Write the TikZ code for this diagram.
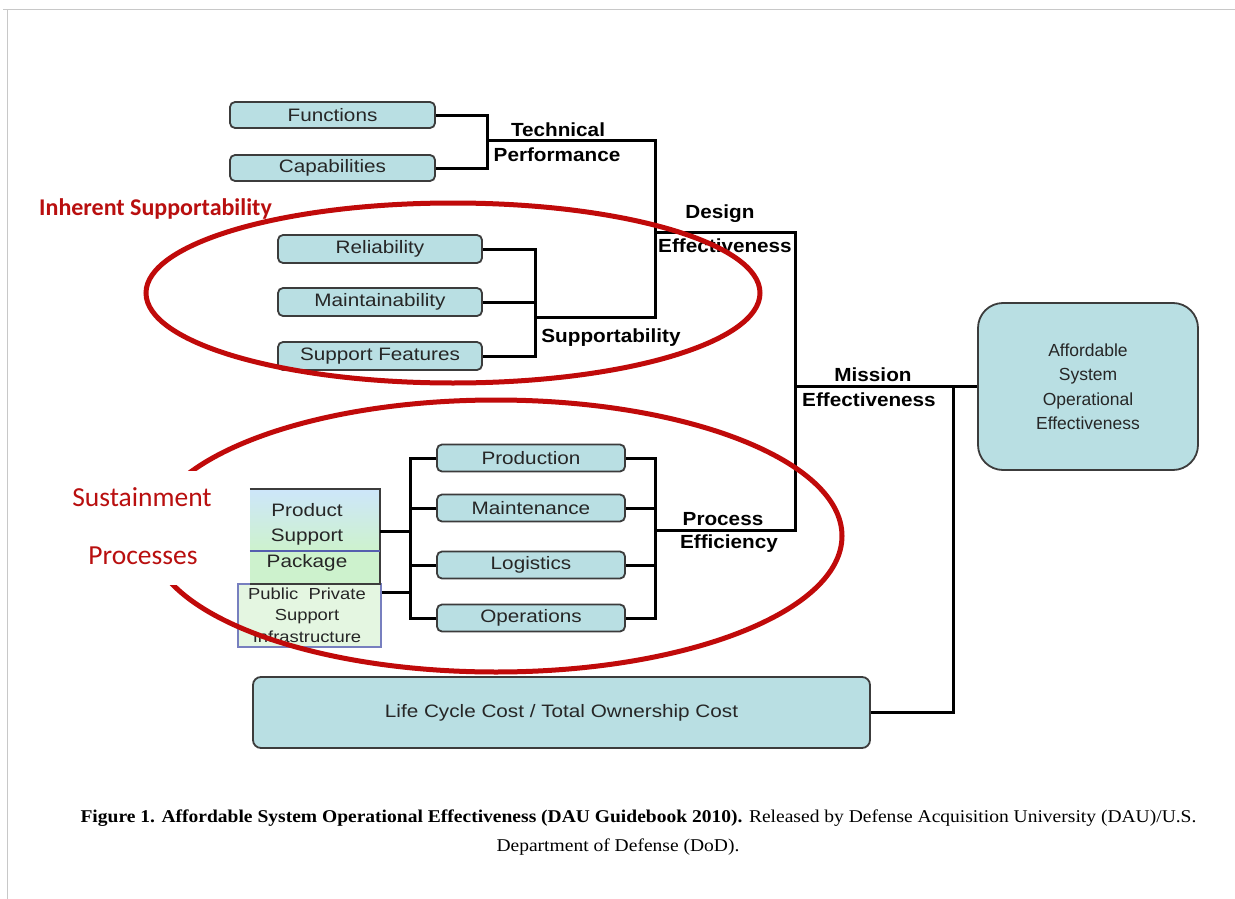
\documentclass[tikz,border=0pt]{standalone}
\usepackage{fontspec}
\setmainfont{Liberation Sans}
\newfontfamily\boxfont[FakeStretch=1.15]{Liberation Sans}
\newfontfamily\lblfont[FakeStretch=1.09]{Liberation Sans}
\newfontfamily\calfont{Carlito}
\newfontfamily\serfont[FakeStretch=1.085]{Liberation Serif}
\usetikzlibrary{calc}
\definecolor{boxfill}{RGB}{185,223,227}
\definecolor{boxline}{RGB}{60,60,60}
\definecolor{ellred}{RGB}{192,10,10}
\definecolor{txtred}{RGB}{185,15,15}
\definecolor{framegray}{RGB}{200,200,200}
\definecolor{pspblue}{RGB}{205,230,250}
\definecolor{pspgreen}{RGB}{205,242,205}
\definecolor{ppigreen}{RGB}{228,246,225}
\definecolor{sepblue}{RGB}{85,95,175}
\tikzset{
  box/.style={draw=boxline, line width=1.8pt, fill=boxfill, rounded corners=5pt, inner sep=0pt,
    font=\boxfont\fontsize{18}{22}\selectfont, text=black!85},
  conn/.style={line width=3pt, draw=black},
  lbl/.style={font=\lblfont\bfseries\fontsize{19}{22}\selectfont, inner sep=0pt},
  redlbl/.style={text=txtred, inner sep=0pt},
  ell/.style={draw=ellred, line width=5pt},
}
\begin{document}
\begin{tikzpicture}[x=1pt,y=-1pt]
\useasboundingbox (0,0) rectangle (1235,899);
\fill[white] (0,0) rectangle (1235,899);
% frame
\draw[framegray, line width=1.5pt] (3,9.5) -- (1235,9.5);
\draw[framegray, line width=1.5pt] (7.5,9.5) -- (7.5,899);

% top boxes
\node[box, minimum width=205, minimum height=26] (func) at (332.5,115) {Functions};
\node[box, minimum width=205, minimum height=26] (cap) at (332.5,168) {Capabilities};
\node[box, minimum width=204, minimum height=28] (rel) at (380,249) {Reliability};
\node[box, minimum width=204, minimum height=28] (mai) at (380,302) {Maintainability};
\node[box, minimum width=204, minimum height=28] (sf) at (380,356) {Support Features};

% process boxes
\node[box, minimum width=188, minimum height=27] (prod) at (531,458) {Production};
\node[box, minimum width=188, minimum height=27] (mnt) at (531,508) {Maintenance};
\node[box, minimum width=188, minimum height=27] (logi) at (531,565) {Logistics};
\node[box, minimum width=188, minimum height=27] (ops) at (531,618) {Operations};

% product support package
\node[inner sep=0pt, minimum width=130, minimum height=62, top color=pspblue, bottom color=pspgreen] (psp) at (315,520) {};
\node[inner sep=0pt, minimum width=130, minimum height=33, fill=pspgreen] (pkg) at (315,567.5) {};
\node[inner sep=0pt, minimum width=143, minimum height=63, fill=ppigreen, draw=sepblue!80, line width=1.2pt] (ppi) at (309.5,615.5) {};
\draw[boxline, line width=1.5pt] (psp.north west) -- (psp.north east) -- (pkg.south east) -- (pkg.south west);
\draw[sepblue, line width=1.5pt] (psp.south west) -- (psp.south east);
\node[align=center, inner sep=0pt, font=\boxfont\fontsize{18}{25}\selectfont, text=black!85] (pspt) at (307,524) {Product\\Support};
\node[inner sep=0pt, font=\boxfont\fontsize{18}{22}\selectfont, text=black!85] (pkgt) at (307,563) {Package};
\node[align=center, inner sep=0pt, font=\boxfont\fontsize{16}{21.5}\selectfont, text=black!85] (ppit) at (307,615) {Public\ \ Private\\Support\\Infrastructure};

% right boxes
\node[box, rounded corners=25pt, minimum width=220, minimum height=167, align=center,
  font=\fontsize{17.5}{24.5}\selectfont] (asoe) at (1088,386.5) {Affordable\\System\\Operational\\Effectiveness};
\node[box, rounded corners=8pt, minimum width=617, minimum height=71] (lcc) at (561.5,712.5) {Life Cycle Cost / Total Ownership Cost};

% junctions
\coordinate (tpj) at (487,140);
\coordinate (dej) at (655,232);
\coordinate (spj) at (535,317);
\coordinate (mej) at (795,386.5);
\coordinate (pej) at (655,530);
\coordinate (lcj) at (953,386.5);
\coordinate (lbt) at (410,458);
\coordinate (lbb) at (410,618);

% connectors
\draw[conn] (func.east) -| (tpj) |- (cap.east);
\draw[conn] (tpj) -| (dej) |- (spj);
\draw[conn] (rel.east) -| (spj) |- (sf.east);
\draw[conn] (mai.east) -- (mai.east -| spj);
\draw[conn] (dej) -| (mej) |- (pej);
\draw[conn] (prod.east) -| (pej) |- (ops.east);
\draw[conn] (mnt.east) -- (mnt.east -| pej);
\draw[conn] (logi.east) -- (logi.east -| pej);
\draw[conn] (mej) -- (asoe.west);
\draw[conn] (lcc.east) -| (lcj);
\draw[conn] (prod.west) -- (lbt) -- (lbb) -- (ops.west);
\draw[conn] (mnt.west) -- (mnt.west -| lbt);
\draw[conn] (logi.west) -- (logi.west -| lbt);
\coordinate (pspout) at ($(psp.north east)+(0,43)$);
\coordinate (ppiout) at ($(ppi.north east)+(0,9)$);
\draw[conn] (pspout) -- (pspout -| lbt);
\draw[conn] (ppiout) -- (ppiout -| lbt);

% bold labels
\node[lbl] (tech) at (558,130) {Technical};
\node[lbl] (perf) at (557,155) {Performance};
\node[lbl] (supp) at (611,338) {Supportability};
\node[lbl] (des) at (720,214) {Design};
\node[lbl] (deff) at (725,246) {Effectiveness};
\node[lbl] (mis) at (873,375) {Mission};
\node[lbl] (meff) at (869,400) {Effectiveness};
\node[lbl] (proc) at (723,519) {Process};
\node[lbl] (peff) at (729,544) {Efficiency};

% ellipses
\draw[ell] (453,293) ellipse [x radius=307, y radius=90];
\draw[ell] (496,536) ellipse [x radius=346, y radius=136];

% red labels
\node[redlbl, font=\calfont\bfseries\fontsize{24}{26}\selectfont] (inh) at (155.5,209) {Inherent Supportability};
\node[fill=white, minimum width=175, minimum height=114, inner sep=0pt] (sbg) at (140,528) {};
\node[redlbl, font=\calfont\fontsize{27.5}{30}\selectfont] (sus) at (142,497) {Sustainment};
\node[redlbl, font=\calfont\fontsize{27.5}{30}\selectfont] (pro) at (143,556) {Processes};

% caption
\node[inner sep=0pt, font=\serfont\fontsize{18}{22}\selectfont] (cap1) at (638.5,818)
  {\textbf{Figure 1. Affordable System Operational Effectiveness (DAU Guidebook 2010).} Released by Defense Acquisition University (DAU)/U.S.};
\node[inner sep=0pt, font=\serfont\fontsize{18}{22}\selectfont] (cap2) at (618,847) {Department of Defense (DoD).};
\end{tikzpicture}
\end{document}
